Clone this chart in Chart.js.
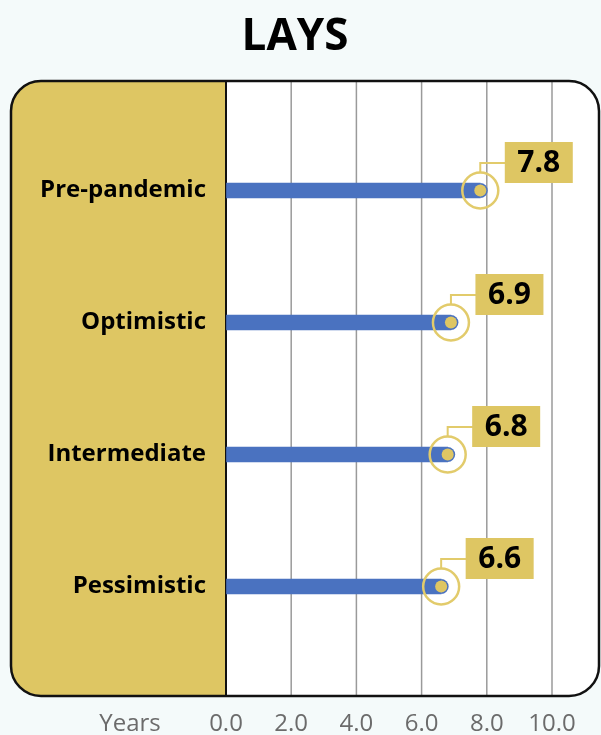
<!DOCTYPE html>
<html>
<head>
<meta charset="utf-8">
<script src="https://cdn.jsdelivr.net/npm/chart.js@4"></script>
<style>
    html, body { margin: 0; padding: 0; background: #F4FAFA; }
    #wrap { width: 601px; height: 735px; }
</style>
</head>
<body>
<div id="wrap"><canvas id="bar-chart" width="601" height="735"></canvas></div>
<script>
const categories = ['Pre-pandemic', 'Optimistic', 'Intermediate', 'Pessimistic'];
const values = [7.8, 6.9, 6.8, 6.6];
const tickValues = [0, 2, 4, 6, 8, 10];
const axisName = 'Years';
const chartTitle = 'LAYS';

const YELLOW = '#DEC663';
const BLUE = '#4A72C0';
const PANEL = { left: 11, right: 599, top: 81, bottom: 696, radius: 30 };

function roundRectPath(ctx, x, y, w, h, r) {
    ctx.beginPath();
    ctx.moveTo(x + r, y);
    ctx.lineTo(x + w - r, y);
    ctx.arcTo(x + w, y, x + w, y + r, r);
    ctx.lineTo(x + w, y + h - r);
    ctx.arcTo(x + w, y + h, x + w - r, y + h, r);
    ctx.lineTo(x + r, y + h);
    ctx.arcTo(x, y + h, x, y + h - r, r);
    ctx.lineTo(x, y + r);
    ctx.arcTo(x, y, x + r, y, r);
    ctx.closePath();
}

function panelPath(ctx) {
    roundRectPath(ctx, PANEL.left, PANEL.top, PANEL.right - PANEL.left, PANEL.bottom - PANEL.top, PANEL.radius);
}

// panel behind the chart: white rounded box, yellow label column, grid lines
const panelPlugin = {
    id: 'panel',
    beforeDraw(chart) {
        const ctx = chart.ctx;
        const area = chart.chartArea;
        const xs = chart.scales.x;
        ctx.save();
        ctx.fillStyle = '#F4FAFA';
        ctx.fillRect(0, 0, chart.width, chart.height);

        ctx.fillStyle = '#000000';
        ctx.font = 'bold 44px "Open Sans"';
        ctx.textAlign = 'center';
        ctx.textBaseline = 'middle';
        ctx.fillText(chartTitle, 295, 37);

        panelPath(ctx);
        ctx.fillStyle = '#ffffff';
        ctx.fill();
        ctx.clip();
        ctx.fillStyle = YELLOW;
        ctx.fillRect(PANEL.left, PANEL.top, area.left - PANEL.left, PANEL.bottom - PANEL.top);

        tickValues.forEach(function (v) {
            const x = xs.getPixelForValue(v);
            ctx.strokeStyle = v === 0 ? '#111111' : '#9a9a9a';
            ctx.lineWidth = v === 0 ? 2 : 1.5;
            ctx.beginPath();
            ctx.moveTo(x, PANEL.top);
            ctx.lineTo(x, PANEL.bottom);
            ctx.stroke();
        });
        ctx.restore();
    },
    afterDraw(chart) {
        const ctx = chart.ctx;
        ctx.save();
        panelPath(ctx);
        ctx.strokeStyle = '#111111';
        ctx.lineWidth = 2.5;
        ctx.stroke();

        ctx.fillStyle = '#6b6b6b';
        ctx.font = '24px "Open Sans"';
        ctx.textAlign = 'center';
        ctx.textBaseline = 'middle';
        ctx.fillText(axisName, 130, 724);
        ctx.restore();
    }
};

// ring marker + callout box for each value
const calloutPlugin = {
    id: 'callout',
    afterDatasetsDraw(chart) {
        const ctx = chart.ctx;
        const meta = chart.getDatasetMeta(0);
        ctx.save();
        meta.data.forEach(function (bar, i) {
            const x = bar.x, y = bar.y;
            ctx.fillStyle = BLUE;
            ctx.beginPath();
            ctx.arc(x, y, 7.5, -Math.PI / 2, Math.PI / 2);
            ctx.fill();

            ctx.fillStyle = YELLOW;
            ctx.beginPath();
            ctx.arc(x, y, 6, 0, Math.PI * 2);
            ctx.fill();

            ctx.strokeStyle = '#E2CB6B';
            ctx.lineWidth = 2.5;
            ctx.beginPath();
            ctx.arc(x, y, 18, 0, Math.PI * 2);
            ctx.stroke();

            ctx.lineWidth = 2;
            ctx.beginPath();
            ctx.moveTo(x, y - 18);
            ctx.lineTo(x, y - 27.5);
            ctx.lineTo(x + 26, y - 27.5);
            ctx.stroke();

            ctx.fillStyle = YELLOW;
            ctx.fillRect(x + 24.5, y - 48.5, 68, 41);
            ctx.fillStyle = '#000000';
            ctx.font = 'bold 30px "Open Sans"';
            ctx.textAlign = 'center';
            ctx.textBaseline = 'middle';
            ctx.fillText(values[i].toFixed(1), x + 58.5, y - 27);
        });
        ctx.restore();
    }
};

const ctx = document.getElementById('bar-chart').getContext('2d');
const chart = new Chart(ctx, {
    type: 'bar',
    data: {
        labels: categories,
        datasets: [{
            data: values,
            backgroundColor: BLUE,
            barThickness: 15,
            borderSkipped: 'start'
        }]
    },
    options: {
        indexAxis: 'y',
        responsive: false,
        animation: false,
        layout: {
            padding: { left: 0, right: 49, top: 124.5, bottom: 0 }
        },
        scales: {
            x: {
                min: 0,
                max: 10,
                afterBuildTicks: function (scale) {
                    scale.ticks = tickValues.map(v => ({ value: v }));
                },
                afterFit: function (scale) {
                    scale.height = 82.5;
                },
                ticks: {
                    color: '#6b6b6b',
                    font: { family: 'Open Sans', size: 24 },
                    padding: 6,
                    maxRotation: 0,
                    callback: function (v) { return Number(v).toFixed(1); }
                },
                // invisible tick marks just push the labels below the panel
                grid: {
                    display: true,
                    drawOnChartArea: false,
                    drawTicks: true,
                    tickLength: 51,
                    color: 'rgba(0,0,0,0)'
                },
                border: { display: false }
            },
            y: {
                afterFit: function (scale) {
                    scale.width = 226;
                },
                ticks: {
                    color: '#000000',
                    font: { family: 'Open Sans', size: 24, weight: 'bold' },
                    padding: 12
                },
                grid: { display: false },
                border: { display: false }
            }
        },
        plugins: {
            legend: { display: false },
            tooltip: { enabled: false },
            title: { display: false }
        }
    },
    plugins: [panelPlugin, calloutPlugin]
});
</script>
</body>
</html>
